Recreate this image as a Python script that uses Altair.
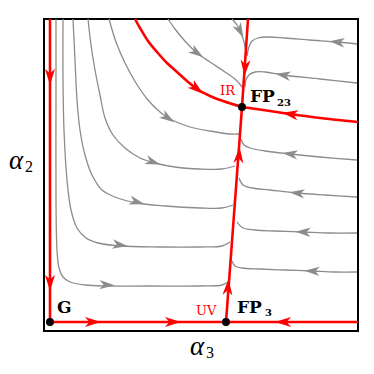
import math
import altair as alt
import pandas as pd

# ---- flow lines (alpha3, alpha2 in picture units; alpha2 grows downward) ----
gray_curves = {
    "A": [(109, 19), (116, 42), (125, 63), (136, 83), (148, 100), (160, 112), (172, 120), (190, 127), (210, 131), (230, 134), (239, 134)],
    "B": [(88, 19), (91, 45), (95, 70), (100, 95), (105, 118), (113, 135), (125, 148), (140, 158), (155, 163), (175, 167), (200, 169), (222, 169), (235, 166)],
    "C": [(73, 19), (75, 60), (77, 100), (80, 130), (85, 155), (92, 175), (102, 190), (115, 197), (137, 203), (165, 206), (200, 208), (222, 208), (233, 205)],
    "D": [(63, 19), (63, 80), (64, 130), (67, 180), (71, 210), (77, 228), (86, 238), (98, 243), (120, 246), (160, 247), (200, 247), (222, 246), (230, 242)],
    "E": [(56, 19), (56, 100), (56, 200), (57, 250), (59, 268), (63, 277), (70, 282), (85, 285), (107, 286), (150, 286), (200, 286), (222, 285), (228, 282)],
    "F": [(168, 19), (175, 29), (184, 40), (197, 53), (210, 62), (225, 72), (236, 80), (243, 88)],
    "G": [(232, 19), (237, 25), (241, 33), (244, 42), (246, 52)],
    "H": [(357, 44), (337, 42), (310, 40), (285, 38), (268, 37), (258, 38), (252, 41), (249, 47), (247, 56)],
    "I": [(357, 83), (320, 79), (283, 75), (265, 72), (255, 72), (249, 75), (246, 80), (245, 87)],
    "J": [(357, 160), (320, 157), (290, 154), (265, 151), (250, 148), (244, 145), (241, 139)],
    "K": [(357, 197), (325, 195), (297, 193), (270, 190), (252, 188), (243, 185), (239, 178)],
    "L": [(357, 233), (330, 233), (303, 232), (275, 231), (255, 230), (243, 228), (237, 222)],
    "M": [(357, 272), (335, 272), (312, 271), (285, 270), (260, 269), (242, 268), (235, 266), (232, 261)],
}
red_smooth = {
    "IR": [(135, 19), (140, 28), (148, 41), (157, 52), (167, 63), (177, 72), (187, 81), (197, 89), (210, 96), (223, 101), (242, 107)],
    "RIGHT": [(242, 107), (270, 111), (290, 114), (320, 118), (358, 122)],
}
red_straight = {
    "LEFT": [(50, 19), (50, 322)],
    "BOTTOM": [(50, 322), (358, 322)],
    "VERT": [(226, 322), (242, 107), (248, 19)],
}
gray_arrows = [("A", 168, 118), ("B", 153, 162), ("C", 137, 202), ("D", 120, 245), ("E", 107, 285),
               ("F", 197, 53), ("G", 240, 31), ("H", 337, 42), ("I", 283, 75), ("J", 290, 154),
               ("K", 297, 193), ("L", 303, 232), ("M", 312, 271)]
red_arrows = [("LEFT", 50, 77), ("LEFT", 50, 283), ("BOTTOM", 93, 322), ("BOTTOM", 173, 322),
              ("VERT", 228, 287), ("VERT", 239, 155), ("IR", 197, 89)]
# arrows that flow against the listed point order
red_arrows_back = [("BOTTOM", 283, 322), ("VERT", 245, 68), ("RIGHT", 290, 114)]

fixed_points = [("G", 50, 322), ("FP3", 226, 322), ("FP23", 242, 107)]

all_curves = {**gray_curves, **red_smooth, **red_straight}


def rows(curves):
    out = []
    for name, pts in curves.items():
        for i, (x, y) in enumerate(pts):
            out.append({"curve": name, "i": i, "x": x, "y": y})
    return pd.DataFrame(out)


def angle_at(name, x, y, flip=False):
    pts = all_curves[name]
    best, bi = 1e9, 0
    for k in range(len(pts) - 1):
        mx = (pts[k][0] + pts[k + 1][0]) / 2
        my = (pts[k][1] + pts[k + 1][1]) / 2
        d = (mx - x) ** 2 + (my - y) ** 2
        if d < best:
            best, bi = d, k
    dx = pts[bi + 1][0] - pts[bi][0]
    dy = pts[bi + 1][1] - pts[bi][1]
    a = math.degrees(math.atan2(dy, dx))
    if flip:
        a += 180
    return a % 360


ga = pd.DataFrame([{"x": x, "y": y, "a": angle_at(c, x, y)} for c, x, y in gray_arrows])
ra = pd.DataFrame([{"x": x, "y": y, "a": angle_at(c, x, y)} for c, x, y in red_arrows]
                  + [{"x": x, "y": y, "a": angle_at(c, x, y, flip=True)} for c, x, y in red_arrows_back])
fp = pd.DataFrame([{"name": n, "x": x, "y": y} for n, x, y in fixed_points])

X = alt.X("x:Q", scale=alt.Scale(domain=[44, 358], nice=False, zero=False), axis=None)
Y = alt.Y("y:Q", scale=alt.Scale(domain=[19, 331], nice=False, zero=False, reverse=True), axis=None)

ARROW = "M1,0 L-1,-0.62 L-0.45,0 L-1,0.62 Z"

gray = alt.Chart(rows(gray_curves)).mark_line(
    color="#8c8c8c", strokeWidth=1.3, interpolate="catmull-rom"
).encode(x=X, y=Y, detail="curve:N", order="i:Q")

red1 = alt.Chart(rows(red_smooth)).mark_line(
    color="#ff0000", strokeWidth=2.6, interpolate="catmull-rom"
).encode(x=X, y=Y, detail="curve:N", order="i:Q")

red2 = alt.Chart(rows(red_straight)).mark_line(
    color="#ff0000", strokeWidth=2.6
).encode(x=X, y=Y, detail="curve:N", order="i:Q")

garr = alt.Chart(ga).mark_point(
    shape=ARROW, filled=True, color="#8c8c8c", size=230, opacity=1
).encode(x=X, y=Y, angle=alt.Angle("a:Q", scale=None))

rarr = alt.Chart(ra).mark_point(
    shape=ARROW, filled=True, color="#ff0000", size=260, opacity=1
).encode(x=X, y=Y, angle=alt.Angle("a:Q", scale=None))

dots = alt.Chart(fp).mark_circle(color="black", size=64, opacity=1).encode(x=X, y=Y)

# ---- labels ----
labels_big = pd.DataFrame([
    {"t": "G", "x": 57, "y": 313},
    {"t": "FP", "x": 237, "y": 313},
    {"t": "FP", "x": 250, "y": 102},
])
labels_sub = pd.DataFrame([
    {"t": "3", "x": 265, "y": 316},
    {"t": "23", "x": 277, "y": 106},
])
labels_red = pd.DataFrame([
    {"t": "IR", "x": 220, "y": 95},
    {"t": "UV", "x": 196, "y": 315},
])
axis_alpha = pd.DataFrame([
    {"t": "α", "x": 190, "y": 355},
    {"t": "α", "x": 9, "y": 169},
])
axis_sub = pd.DataFrame([
    {"t": "3", "x": 206, "y": 358},
    {"t": "2", "x": 25, "y": 172},
])

tb = alt.Chart(labels_big).mark_text(
    font="DejaVu Serif", fontWeight="bold", fontSize=17, align="left", baseline="alphabetic", color="black"
).encode(x=X, y=Y, text="t:N")
ts = alt.Chart(labels_sub).mark_text(
    font="DejaVu Serif", fontWeight="bold", fontSize=10, align="left", baseline="alphabetic", color="black"
).encode(x=X, y=Y, text="t:N")
tr = alt.Chart(labels_red).mark_text(
    font="DejaVu Serif", fontSize=13, align="left", baseline="alphabetic", color="#ff0000"
).encode(x=X, y=Y, text="t:N")
ta = alt.Chart(axis_alpha).mark_text(
    font="Liberation Serif", fontStyle="italic", fontSize=27, align="left", baseline="alphabetic", color="black"
).encode(x=X, y=Y, text="t:N")
tsub = alt.Chart(axis_sub).mark_text(
    font="Liberation Serif", fontSize=16, align="left", baseline="alphabetic", color="black"
).encode(x=X, y=Y, text="t:N")

chart = alt.layer(gray, red1, red2, garr, rarr, dots, tb, ts, tr, ta, tsub).properties(
    width=314, height=312,
    autosize=alt.AutoSizeParams(type="none"),
    padding={"left": 36, "top": 11, "right": 8, "bottom": 35},
).configure_view(stroke="black", strokeWidth=2)

chart.save("out.html", embed_options={"renderer": "svg", "actions": False})
